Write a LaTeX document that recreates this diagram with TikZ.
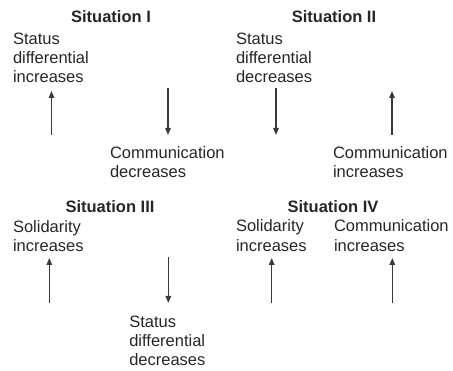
\documentclass[tikz,border=0pt]{standalone}
\usepackage{fontspec}
\setmainfont{Liberation Sans}
\usetikzlibrary{arrows.meta}
\definecolor{ink}{HTML}{262626}
\definecolor{arrowink}{HTML}{3A3A3A}
\begin{document}
\begin{tikzpicture}[x=1pt,y=-1pt,
  every node/.style={inner sep=0pt, outer sep=0pt, text=ink,
    font=\fontsize{16.5}{19.2}\selectfont},
  title/.style={anchor=base, font=\fontsize{16.5}{19.2}\selectfont\bfseries},
  % multi-line labels are placed by the baseline of their last line
  lbl/.style={anchor=base west, align=left},
  change/.style={draw=arrowink, line width=1.4pt,
    -{Triangle[length=7pt,width=5.5pt]}}
]
\useasboundingbox (0,0) rectangle (453,371);

% Situation I
\node[title] (t1) at (111,22.7) {Situation I};
\node[lbl] (s1) at (13,82.8) {Status\\differential\\increases};
\node[lbl] (c1) at (110,178) {Communication\\decreases};
\coordinate (u1a) at (51.5,135);
\coordinate (u1b) at (51.5,91);
\coordinate (d1a) at (168,88);
\coordinate (d1b) at (168,135);
\draw[change] (u1a) -- (u1b);
\draw[change] (d1a) -- (d1b);

% Situation II
\node[title] (t2) at (334,22.7) {Situation II};
\node[lbl] (s2) at (236,82.8) {Status\\differential\\decreases};
\node[lbl] (c2) at (333,178) {Communication\\increases};
\coordinate (d2a) at (276,88);
\coordinate (d2b) at (276,135);
\coordinate (u2a) at (392,135);
\coordinate (u2b) at (392,91);
\draw[change] (d2a) -- (d2b);
\draw[change] (u2a) -- (u2b);

% Situation III
\node[title] (t3) at (110,212.7) {Situation III};
\node[lbl] (so3) at (13,251.5) {Solidarity\\increases};
\node[lbl] (s3) at (129.3,365.7) {Status\\differential\\decreases};
\coordinate (u3a) at (49.3,303.5);
\coordinate (u3b) at (49.3,258);
\coordinate (d3a) at (168.3,257);
\coordinate (d3b) at (168.3,303);
\draw[change] (u3a) -- (u3b);
\draw[change] (d3a) -- (d3b);

% Situation IV
\node[title] (t4) at (333,212.7) {Situation IV};
\node[lbl] (so4) at (236,251.2) {Solidarity\\increases};
\node[lbl] (c4) at (334,251.2) {Communication\\increases};
\coordinate (u4a) at (271.7,303.5);
\coordinate (u4b) at (271.7,258);
\coordinate (u5a) at (392.3,303.5);
\coordinate (u5b) at (392.3,258);
\draw[change] (u4a) -- (u4b);
\draw[change] (u5a) -- (u5b);
\end{tikzpicture}
\end{document}
